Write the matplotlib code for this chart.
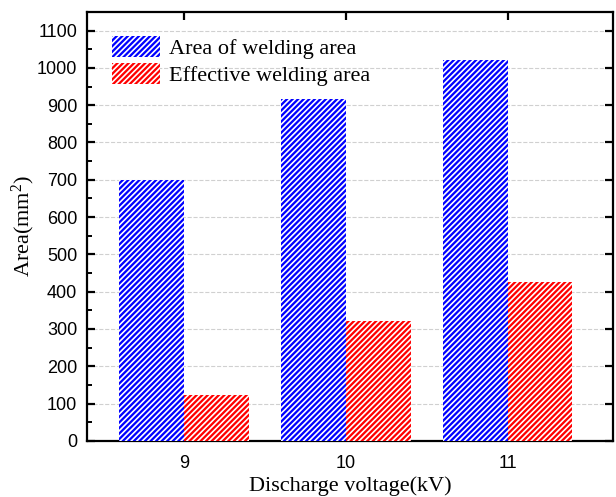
import numpy as np
import matplotlib.pyplot as plt
from matplotlib.ticker import MultipleLocator

plt.rcParams['hatch.linewidth'] = 1.2
plt.rcParams['hatch.color'] = 'white'
plt.rcParams['mathtext.fontset'] = 'custom'
plt.rcParams['mathtext.rm'] = 'Liberation Serif'

voltage = [9, 10, 11]
weld_area = [700, 917, 1020]
effective_area = [124, 322, 425]

fig = plt.figure(figsize=(6.16, 4.97), dpi=100)
ax = fig.add_axes([0.141, 0.113, 0.854, 0.863])

x = np.array(voltage, dtype=float)
w = 0.4
ax.bar(x - w / 2, weld_area, w, color='#0000ff', hatch='//////', edgecolor='white',
       linewidth=0, label='Area of welding area', zorder=3)
ax.bar(x + w / 2, effective_area, w, color='#ff0000', hatch='//////', edgecolor='white',
       linewidth=0, label='Effective welding area', zorder=3)

ax.set_xlim(8.4, 11.65)
ax.set_ylim(0, 1150)
ax.set_xticks(voltage)
ax.yaxis.set_major_locator(MultipleLocator(100))
ax.yaxis.set_minor_locator(MultipleLocator(50))
ax.grid(axis='y', linestyle='--', color='#d0d0d0', linewidth=0.8, zorder=0)

for s in ax.spines.values():
    s.set_linewidth(1.6)
ax.tick_params(axis='both', which='major', direction='in', length=6, width=1.6,
               top=True, right=True, labelsize=13)
ax.tick_params(axis='y', which='minor', direction='in', length=3.5, width=1.4, right=False)
ax.tick_params(axis='y', which='major', pad=7)
ax.tick_params(axis='x', which='major', pad=10)
for lab in ax.get_xticklabels() + ax.get_yticklabels():
    lab.set_fontfamily('Liberation Sans')

ax.set_xlabel('Discharge voltage(kV)', fontfamily='Liberation Serif', fontsize=16, labelpad=3)
ax.set_ylabel(r'Area(mm$\mathregular{^2}$)', fontfamily='Liberation Serif', fontsize=16,
              labelpad=0)

ax.legend(loc='upper left', frameon=False, prop={'family': 'Liberation Serif', 'size': 16},
          handlelength=2.2, handleheight=1.1, handletextpad=0.4, labelspacing=0.15,
          borderaxespad=0.0, borderpad=0.0, bbox_to_anchor=(0.047, 0.944))

fig.savefig('out.png', dpi=100)
